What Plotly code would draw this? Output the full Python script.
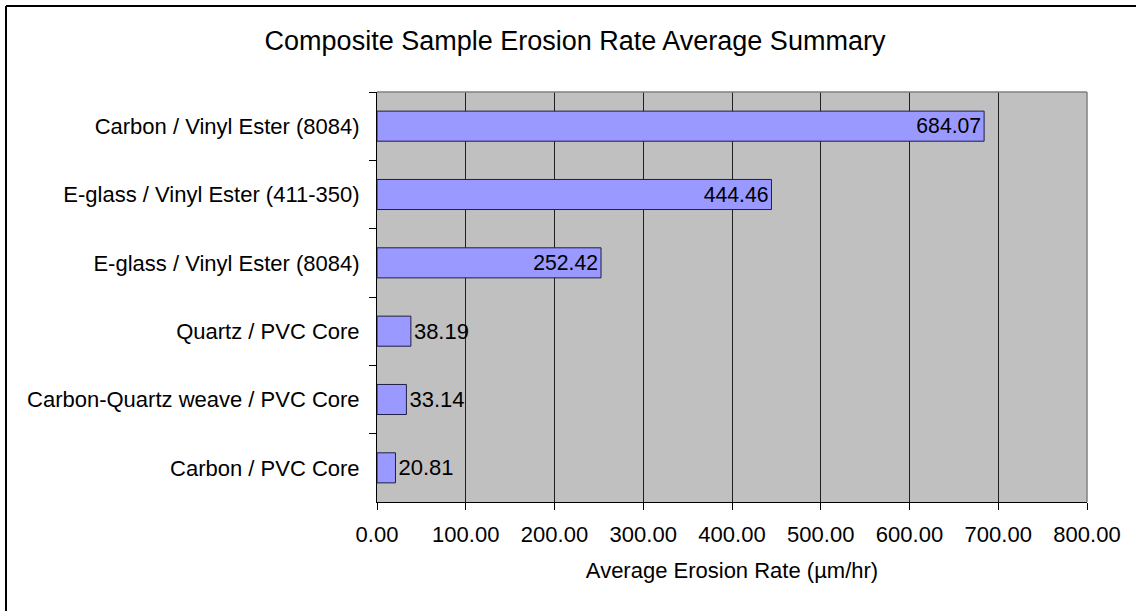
import plotly.graph_objects as go

# Composite samples, listed top to bottom as drawn
materials = [
    "Carbon / Vinyl Ester (8084)",
    "E-glass / Vinyl Ester (411-350)",
    "E-glass / Vinyl Ester (8084)",
    "Quartz / PVC Core",
    "Carbon-Quartz weave / PVC Core",
    "Carbon / PVC Core",
]
erosion_rate = [684.07, 444.46, 252.42, 38.19, 33.14, 20.81]

FONT = "Arial, 'Liberation Sans', sans-serif"

fig = go.Figure(
    go.Bar(
        x=erosion_rate,
        y=materials,
        orientation="h",
        marker=dict(color="#9999FF", line=dict(color="#1E1E46", width=1)),
        text=[f"{v:.2f}" for v in erosion_rate],
        textposition="auto",
        insidetextanchor="end",
        insidetextfont=dict(family=FONT, size=22, color="black"),
        outsidetextfont=dict(family=FONT, size=22, color="black"),
        cliponaxis=False,
        hoverinfo="skip",
    )
)

fig.update_layout(
    width=1136,
    height=611,
    margin=dict(l=377, r=49, t=92, b=109),
    paper_bgcolor="white",
    plot_bgcolor="#C0C0C0",
    font=dict(family=FONT, size=22, color="black"),
    bargap=0.56,
    showlegend=False,
    title=dict(
        text="Composite Sample Erosion Rate Average Summary",
        font=dict(family=FONT, size=27, color="black"),
        x=575 / 1136,
        xanchor="center",
        xref="container",
        y=1 - 41 / 611,
        yanchor="middle",
        yref="container",
    ),
    xaxis=dict(
        range=[0, 800],
        dtick=100,
        tick0=0,
        tickformat=".2f",
        showgrid=True,
        gridcolor="#202020",
        gridwidth=1,
        zeroline=False,
        showline=True,
        linecolor="black",
        linewidth=1,
        ticks="outside",
        ticklen=7,
        tickcolor="black",
        ticklabelstandoff=6,
        tickfont=dict(family=FONT, size=22, color="black"),
        title=dict(
            text="Average Erosion Rate (µm/hr)",
            font=dict(family=FONT, size=22, color="black"),
            standoff=16,
        ),
        fixedrange=True,
    ),
    yaxis=dict(
        autorange="reversed",
        showgrid=False,
        zeroline=False,
        showline=True,
        linecolor="black",
        linewidth=1,
        ticks="outside",
        tickson="boundaries",
        ticklen=7,
        tickcolor="black",
        ticklabelstandoff=12,
        tickfont=dict(family=FONT, size=22, color="black"),
        fixedrange=True,
    ),
    shapes=[
        # grey frame around the plot area (top and right edges)
        dict(type="line", xref="paper", yref="paper", x0=0, x1=1, y0=1, y1=1,
             line=dict(color="#808080", width=1.5), layer="above"),
        dict(type="line", xref="paper", yref="paper", x0=1, x1=1, y0=0, y1=1,
             line=dict(color="#808080", width=1.5), layer="above"),
        # chart border along the left and top of the page
        dict(type="line", xref="paper", yref="paper",
             x0=-371 / 710, x1=-371 / 710, y0=1 + 86 / 410, y1=-109 / 410,
             line=dict(color="black", width=2)),
        dict(type="line", xref="paper", yref="paper",
             x0=-371 / 710, x1=(1136 - 377) / 710, y0=1 + 86 / 410, y1=1 + 86 / 410,
             line=dict(color="black", width=2)),
    ],
)

fig.write_html("out.html")
